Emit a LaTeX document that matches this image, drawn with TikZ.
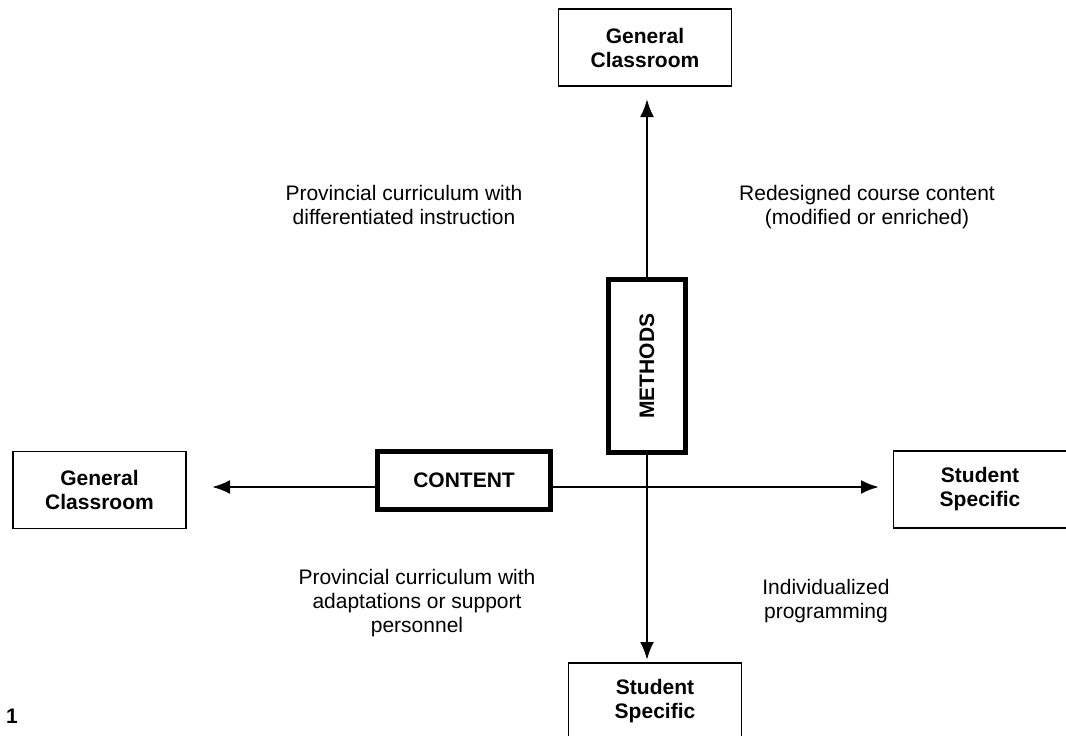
\documentclass[tikz,border=0pt]{standalone}
\usepackage{fontspec}
\setmainfont{Liberation Sans}
\usetikzlibrary{arrows.meta}
\begin{document}
\begin{tikzpicture}[x=1pt,y=-1pt,
  lbl/.style={font=\fontsize{21}{24}\selectfont, align=center, inner sep=0pt},
  endbox/.style={draw, line width=1.8pt, minimum width=173pt, minimum height=77pt, align=center, font=\fontsize{21}{24}\selectfont\bfseries, inner sep=0pt},
  axisbox/.style={draw, line width=5pt, align=center, font=\fontsize{21}{24}\selectfont\bfseries, inner sep=0pt, fill=white},
  conn/.style={line width=2.5pt, -{Latex[length=18pt,width=14pt]}}
]
\useasboundingbox (0,0) rectangle (1066,736);
% end boxes
\node[endbox] (gcTop) at (645,47.5) {General\\Classroom};
\node[endbox] (gcLeft) at (99.5,490) {General\\Classroom};
\node[endbox] (ssRight) at (980,489.5) {Student\\Specific};
\node[endbox] (ssBot) at (655,701.5) {Student\\Specific};
% axis boxes
\node[axisbox, minimum width=173pt, minimum height=58pt] (content) at (464,480) {CONTENT};
\node[axisbox, minimum width=173pt, minimum height=77pt, rotate=90] (methods) at (647,366) {METHODS};
% connector anchors
\coordinate (upTip) at (647,99);
\coordinate (downTip) at (647,660);
\coordinate (leftTip) at (212,487);
\coordinate (rightTip) at (879,487);
\draw[conn] (methods.east) -- (upTip);
\draw[conn] (methods.west) -- (downTip);
\draw[conn] (content.west |- leftTip) -- (leftTip);
\draw[conn] (content.east |- rightTip) -- (rightTip);
% labels
\node[lbl] (tl) at (404,205) {Provincial curriculum with\\differentiated instruction};
\node[lbl] (tr) at (867,207) {Redesigned course content\\(modified or enriched)};
\node[lbl] (bl) at (417,603) {Provincial curriculum with\\adaptations or support\\personnel};
\node[lbl] (br) at (826,601) {Individualized\\programming};
\node[font=\fontsize{21}{24}\selectfont\bfseries, inner sep=0pt] (num) at (12,716) {1};
\end{tikzpicture}
\end{document}
